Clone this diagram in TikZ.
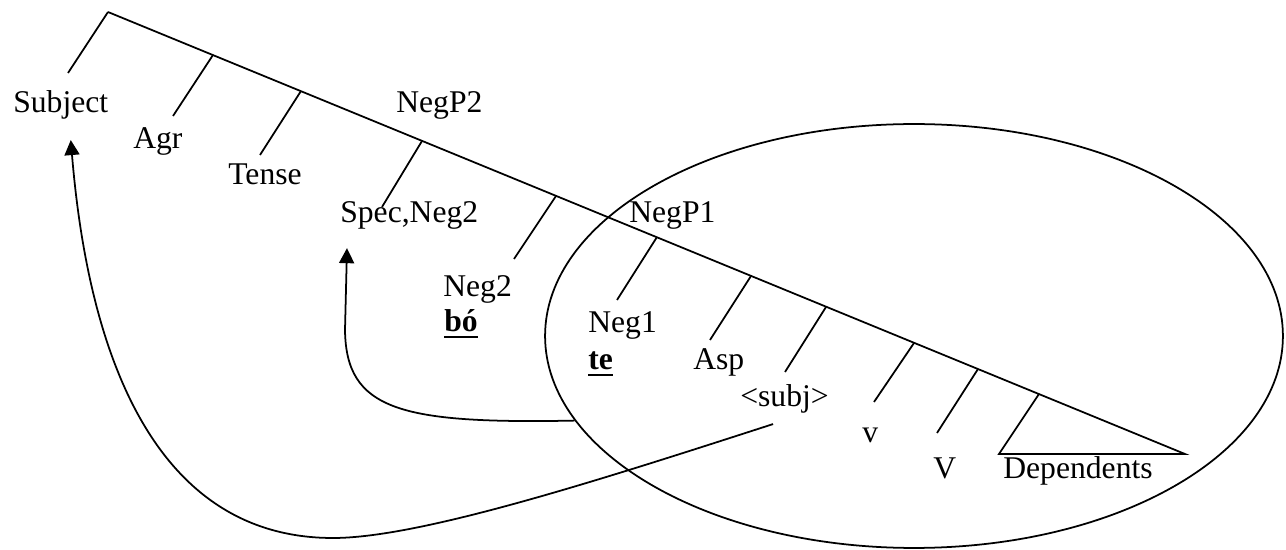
\documentclass[tikz,border=0pt]{standalone}
\usepackage{fontspec}
\setmainfont{Liberation Serif}
\usepackage{tikz}
\usetikzlibrary{positioning,shapes.geometric,arrows.meta}

% bold word with a heavy underline
\newcommand{\ulbf}[1]{\setbox0\hbox{\textbf{#1}}\rlap{\rule[-3.6pt]{\wd0}{1.6pt}}\box0}

\begin{document}
\begin{tikzpicture}[
    x=0.02cm, y=-0.02cm,
    lbl/.style={anchor=base west, inner sep=0pt, font=\fontsize{18}{20.7}\selectfont},
    branch/.style={line width=1pt},
    move/.style={line width=1pt, -{Triangle[length=0.3cm, width=0.3cm]}}
]
\useasboundingbox (0,0) rectangle (1286,550);

% the VP shell
\node[draw, ellipse, line width=1pt, inner sep=0pt,
      minimum width=14.76cm, minimum height=8.48cm] (vpshell) at (914,336) {};

% labels
\node[lbl] (subject) at (13,113) {Subject};
\node[lbl] (agr) at (133,149) {Agr};
\node[lbl] (tense) at (228,185) {Tense};
\node[lbl] (negptwo) at (396,113) {NegP2};
\node[lbl] (spec) at (340,223) {Spec,Neg2};
\node[lbl] (negpone) at (629,223) {NegP1};
\node[lbl] (negtwo) at (443,297) {Neg2};
\node[lbl] (bo) at (444,332) {\ulbf{bó}};
\node[lbl] (negone) at (588,333) {Neg1};
\node[lbl] (te) at (588,370) {\ulbf{te}};
\node[lbl] (asp) at (693,370) {Asp};
\node[lbl] (subjlbl) at (740,407) {<subj>};
\node[lbl] (lightv) at (862,443) {v};
\node[lbl] (mainv) at (933,479) {V};
\node[lbl] (deps) at (1003,479) {Dependents};

% spine of the tree
\coordinate (root) at (108,12);
\coordinate (depsright) at (1185,454);
\coordinate (depsleft) at (999,454);
\coordinate (depsapex) at (1039,394);
\draw[branch] (root) -- (depsright) -- (depsleft) -- (depsapex);

% branches
\coordinate (subjectfoot) at (68,73);
\coordinate (agrtop) at (213,55);    \coordinate (agrfoot) at (173,116);
\coordinate (tensetop) at (301,91);  \coordinate (tensefoot) at (260,155);
\coordinate (spectop) at (422,141);  \coordinate (specfoot) at (382,207);
\coordinate (negtwotop) at (556,196); \coordinate (negtwofoot) at (514,259);
\coordinate (negonetop) at (657,237); \coordinate (negonefoot) at (617,300);
\coordinate (asptop) at (751,276);   \coordinate (aspfoot) at (710,340);
\coordinate (subjtop) at (826,307);  \coordinate (subjfoot) at (785,372);
\coordinate (lightvtop) at (914,343); \coordinate (lightvfoot) at (874,402);
\coordinate (mainvtop) at (978,369); \coordinate (mainvfoot) at (937,433);

\draw[branch] (root) -- (subjectfoot);
\draw[branch] (agrtop) -- (agrfoot);
\draw[branch] (tensetop) -- (tensefoot);
\draw[branch] (spectop) -- (specfoot);
\draw[branch] (negtwotop) -- (negtwofoot);
\draw[branch] (negonetop) -- (negonefoot);
\draw[branch] (asptop) -- (aspfoot);
\draw[branch] (subjtop) -- (subjfoot);
\draw[branch] (lightvtop) -- (lightvfoot);
\draw[branch] (mainvtop) -- (mainvfoot);

% movement arrows
\draw[move] (vpshell.194) .. controls (400,424) and (346,410) .. (345,330)
    -- ([xshift=0.14cm, yshift=-0.36cm]spec.south west);
\draw[move] ([xshift=-0.23cm, yshift=-0.2cm]subjlbl.south)
    .. controls (600,480) and (420,538) .. (333,538)
    .. controls (130,538) and (84,300) .. ([xshift=0.2cm, yshift=-0.4cm]subject.south);

\end{tikzpicture}
\end{document}
